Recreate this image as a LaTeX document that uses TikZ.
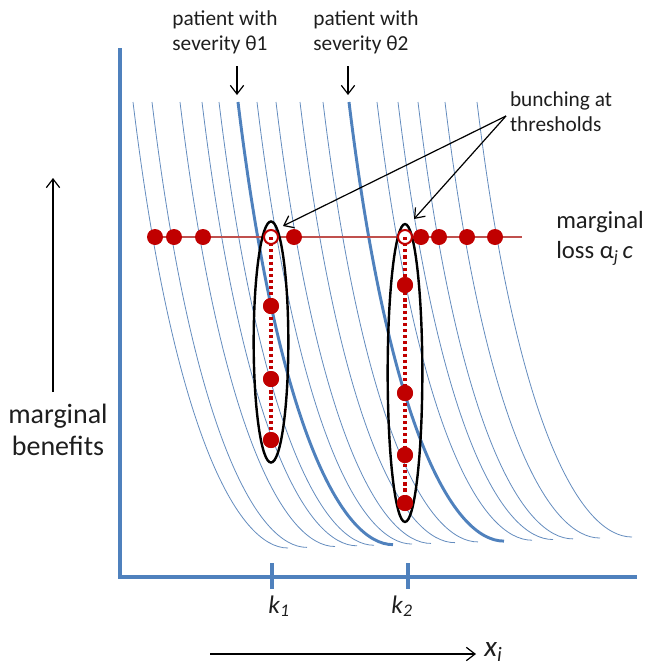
\documentclass[tikz,border=0pt]{standalone}
\usepackage{fontspec}
\setmainfont{Carlito}
\usetikzlibrary{arrows.meta}
\definecolor{axblue}{RGB}{79,129,189}
\definecolor{thinblue}{RGB}{100,140,190}
\definecolor{lossred}{RGB}{192,80,77}
\definecolor{dotred}{RGB}{192,0,0}
\definecolor{txt}{RGB}{30,30,30}
\begin{document}
\begin{tikzpicture}[x=0.75pt,y=-0.75pt,
  thincurve/.style={thinblue, line width=0.6pt},
  thickcurve/.style={axblue, line width=2.2pt},
  axisline/.style={axblue, line width=2.4pt},
  lossline/.style={lossred, line width=2.2pt},
  rdot/.style={circle, fill=dotred, inner sep=0pt, minimum size=12pt},
  hdot/.style={circle, fill=white, draw=dotred, line width=1.5pt, inner sep=0pt, minimum size=10.5pt},
  dotline/.style={dotred, line width=2.6pt, dash pattern=on 2.4pt off 2.2pt},
  bunch/.style={black, line width=1.8pt},
  pointer/.style={black, line width=0.9pt, -{Straight Barb[length=6.5pt,width=10pt]}},
  lbl/.style={text=txt, inner sep=0pt, align=left},
  smalltext/.style={font=\fontsize{16}{19}\selectfont},
]
\useasboundingbox (0,0) rectangle (649,668);

% family of marginal-benefit curves
\foreach \xo/\st in {133/thincurve,152/thincurve,180/thincurve,202/thincurve,219/thincurve,238/thickcurve,257/thincurve,276/thincurve,300/thincurve,323/thincurve,349/thickcurve,377/thincurve,398/thincurve,418/thincurve,445/thincurve,477/thincurve}{
  \pgfmathsetmacro{\ey}{548-(\xo-133)*11/344}
  \pgfmathsetmacro{\ex}{\xo+155}
  \draw[\st] (\xo,102) .. controls +(40,330) and +(-50,0) .. (\ex,\ey);
}

% axes
\coordinate (ytop) at (120,48);
\coordinate (orig) at (120,577);
\coordinate (xend) at (637,577);
\draw[axisline] (ytop) -- (orig) -- (xend);
\coordinate (t1a) at (272,563); \coordinate (t1b) at (272,589);
\coordinate (t2a) at (408,563); \coordinate (t2b) at (408,589);
\draw[axisline] (t1a) -- (t1b);
\draw[axisline] (t2a) -- (t2b);

% marginal loss line
\coordinate (lossL) at (148,237);
\coordinate (lossR) at (522,237);
\draw[lossline] (lossL) -- (lossR);

% bunching ellipses
\draw[bunch] (271,342) ellipse [x radius=13pt, y radius=90.4pt];
\draw[bunch] (405,373) ellipse [x radius=13pt, y radius=111.7pt];

% hollow points at thresholds
\node[hdot] (h1) at (271,237) {};
\node[hdot] (h2) at (405,237) {};

% bunched points
\node[rdot] (k1a) at (271,306) {};
\node[rdot] (k1b) at (271,379) {};
\node[rdot] (k1c) at (271,440) {};
\node[rdot] (k2a) at (405,285) {};
\node[rdot] (k2b) at (405,393) {};
\node[rdot] (k2c) at (405,455) {};
\node[rdot] (k2d) at (405,503) {};
\draw[dotline] (h1.center) -- (k1c.center);
\draw[dotline] (h2.center) -- (k2d.center);
\node[rdot] at (k1a) {};
\node[rdot] at (k1b) {};
\node[rdot] at (k1c) {};
\node[rdot] at (k2a) {};
\node[rdot] at (k2b) {};
\node[rdot] at (k2c) {};
\node[rdot] at (k2d) {};

% points on the loss line
\node[rdot] (m1) at (155,237) {};
\node[rdot] (m2) at (174,237) {};
\node[rdot] (m3) at (203,237) {};
\node[rdot] (m4) at (294,237) {};
\node[rdot] (m5) at (421,237) {};
\node[rdot] (m6) at (439,237) {};
\node[rdot] (m7) at (467,237) {};
\node[rdot] (m8) at (495,237) {};

% top labels
\node[lbl, smalltext] (p1) at (225,32) {patient with\\severity θ1};
\node[lbl, smalltext] (p2) at (366,32) {patient with\\severity θ2};
\coordinate (a1s) at (237,66); \coordinate (a1e) at (237,95);
\coordinate (a2s) at (348,66); \coordinate (a2e) at (348,95);
\draw[pointer] (a1s) -- (a1e);
\draw[pointer] (a2s) -- (a2e);

% bunching label
\node[lbl, smalltext] (bt) at (561,112) {bunching at\\thresholds};
\coordinate (bs) at (506,116);
\coordinate (be1) at (283,226);
\coordinate (be2) at (414,219);
\draw[pointer] (bs) -- (be1);
\draw[pointer] (bs) -- (be2);

% marginal loss label
\node[lbl, font=\fontsize{18.5}{22.5}\selectfont, anchor=west] (ml) at (556,238) {marginal\\loss α\textsubscript{\textit{j}}\,\textit{c}};

% marginal benefits
\node[lbl, font=\fontsize{21}{24}\selectfont, align=center] (mb) at (58,430) {marginal\\benefits};
\coordinate (ua) at (53,392); \coordinate (ub) at (53,178);
\draw[pointer] (ua) -- (ub);

% tick labels
\node[lbl, font=\fontsize{19}{22}\selectfont] (k1) at (279,606) {\textit{k}\textsubscript{\textit{1}}};
\node[lbl, font=\fontsize{19}{22}\selectfont] (k2) at (402,606) {\textit{k}\textsubscript{\textit{2}}};

% x-axis direction
\coordinate (xa) at (210,654); \coordinate (xb) at (476,654);
\draw[pointer] (xa) -- (xb);
\node[lbl, font=\fontsize{22}{26}\selectfont, anchor=west] (xi) at (484,652) {\textit{x}\textsubscript{\textit{i}}};
\end{tikzpicture}
\end{document}
